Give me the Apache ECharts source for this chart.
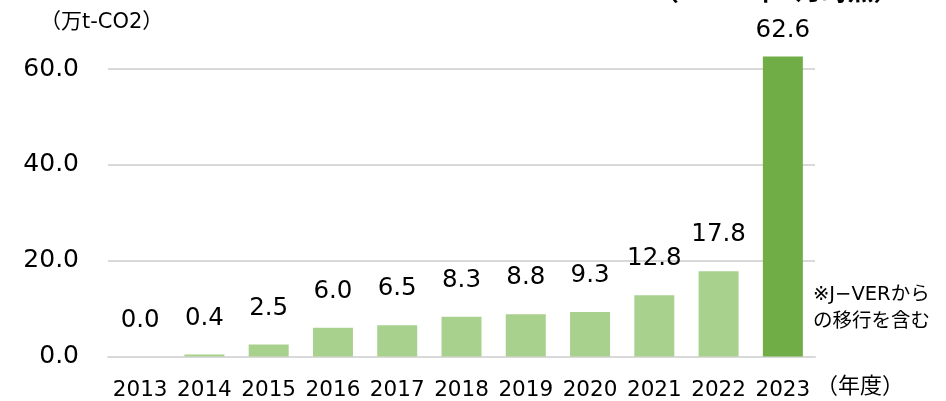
<!DOCTYPE html>
<html>
<head>
<meta charset="utf-8">
<script src="https://cdn.jsdelivr.net/npm/echarts@6/dist/echarts.min.js"></script>
<style>
  html, body { margin: 0; padding: 0; background: #fff; }
  #chart { width: 946px; height: 401px; }
</style>
</head>
<body>
<div id="chart"></div>
<script>
// 年度と数値（万t-CO2）
var years = ['2013', '2014', '2015', '2016', '2017', '2018', '2019', '2020', '2021', '2022', '2023'];
var values = [0.0, 0.4, 2.5, 6.0, 6.5, 8.3, 8.8, 9.3, 12.8, 17.8, 62.6];
var yTicks = [0, 20, 40, 60];

var lightGreen = '#A9D18E';
var darkGreen = '#70AD47';
var font = '"DejaVu Sans", "Noto Sans CJK JP", sans-serif';

var chart = echarts.init(document.getElementById('chart'));

var option = {
    animation: false,
    textStyle: { fontFamily: font },
    title: {
        text: '（2024年3月時点）',
        left: 648,
        top: -25,
        textStyle: { fontSize: 26, fontWeight: 'bold', color: '#000', fontFamily: font }
    },
    graphic: [
        { type: 'text', left: 40, top: 12, style: { text: '（万t-CO2）', fontSize: 21, fill: '#000', fontFamily: font } },
        { type: 'text', left: 816, top: 376, style: { text: '（年度）', fontSize: 22, fill: '#000', fontFamily: font } },
        { type: 'text', left: 813, top: 281, style: { text: '※J−VERから\nの移行を含む', fontSize: 19.5, lineHeight: 27, fill: '#000', fontFamily: font } }
    ],
    grid: { left: 108, right: 131, top: 69, bottom: 44 },
    xAxis: {
        type: 'category',
        data: years,
        axisLine: { show: true, lineStyle: { color: '#d9d9d9', width: 2 } },
        axisTick: { show: false },
        axisLabel: { color: '#000', fontSize: 21.5, margin: 23, fontFamily: font, interval: 0 }
    },
    yAxis: {
        type: 'value',
        min: yTicks[0],
        max: yTicks[yTicks.length - 1],
        interval: 20,
        axisLine: { show: false },
        axisTick: { show: false },
        splitLine: { lineStyle: { color: '#d9d9d9', width: 2 } },
        axisLabel: {
            color: '#000', fontSize: 25, margin: 29, fontFamily: font,
            formatter: function (v) { return v.toFixed(1); }
        }
    },
    series: [{
        type: 'bar',
        clip: false,
        barWidth: 40,
        data: values.map(function (v, i) {
            var last = i === values.length - 1;
            return {
                value: v,
                itemStyle: { color: last ? darkGreen : lightGreen },
                label: { distance: last ? 14 : 24 }
            };
        }),
        label: {
            show: true,
            position: 'top',
            color: '#000',
            fontSize: 24.5,
            fontFamily: font,
            formatter: function (p) { return p.value.toFixed(1); }
        }
    }]
};

chart.setOption(option);
</script>
</body>
</html>
